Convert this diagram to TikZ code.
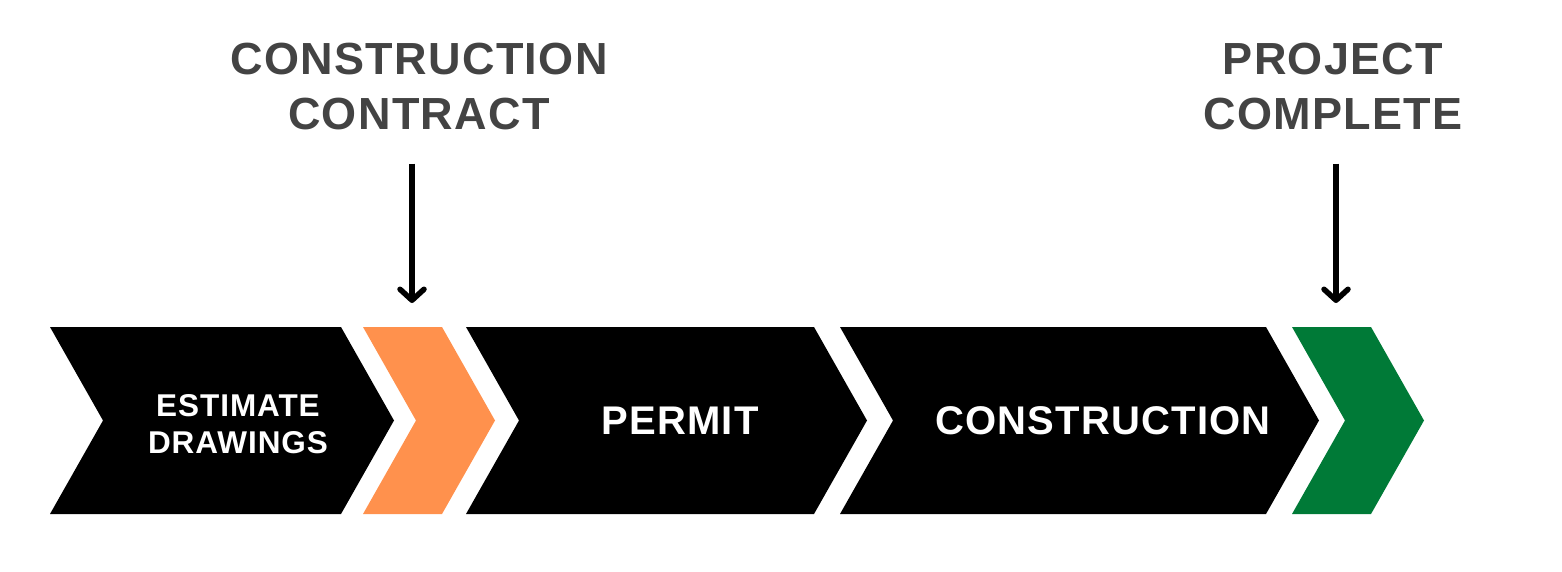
\documentclass[tikz,border=0pt]{standalone}
\usepackage{fontspec}
\setmainfont{Liberation Sans}
\usetikzlibrary{arrows.meta}
\definecolor{stageorange}{HTML}{FF914D}
\definecolor{stagegreen}{HTML}{007A37}
\definecolor{labelgray}{HTML}{434343}
% chevron: left x, top-right x, fill colour
\newcommand{\chevron}[3]{%
  \fill[#3] (#1,\ytop) -- (#2,\ytop) -- (#2+\dep,\ymid)
    -- (#2,\ybot) -- (#1,\ybot) -- (#1+\dep,\ymid) -- cycle;}

\begin{document}
\begin{tikzpicture}[
  x=1pt, y=-1pt,
  >={Straight Barb[length=11pt,width=24pt,round]},
  stagelbl/.style={text=white, align=center, inner sep=0pt,
    font=\bfseries\fontsize{40}{40}\selectfont\addfontfeature{LetterSpace=3}},
  smallstagelbl/.style={stagelbl,
    font=\bfseries\fontsize{31.5}{37}\selectfont\addfontfeature{LetterSpace=3}},
  milestone/.style={text=labelgray, align=center, inner sep=0pt,
    font=\bfseries\fontsize{45}{55}\selectfont\addfontfeature{LetterSpace=3}},
  pinarrow/.style={->, line width=5.5pt, black},
]
\useasboundingbox (0,0) rectangle (1562,572);

% ---- geometry (pixel grid, y down) ----
\def\ytop{327}   % top edge of the band
\def\ybot{514}   % bottom edge of the band
\def\ymid{420.5} % tip / notch height
\def\dep{53}     % depth of tip and notch

% =====================================================
% STAGE BAND
% =====================================================
\chevron{50}{341}{black}        % estimate
\chevron{363}{442}{stageorange} % contract
\chevron{466}{814}{black}       % permit
\chevron{840}{1266}{black}      % construction
\chevron{1292}{1371}{stagegreen}% complete

\node[smallstagelbl] (estimate) at (238,424) {ESTIMATE\\DRAWINGS};
\node[stagelbl] (permit) at (680,421) {PERMIT};
\node[stagelbl] (build) at (1103,421) {CONSTRUCTION};

% =====================================================
% MILESTONES
% =====================================================
\node[milestone] (contract) at (419,87) {CONSTRUCTION\\CONTRACT};
\node[milestone] (complete) at (1333,87) {PROJECT\\COMPLETE};

\coordinate (contractpin) at (412,303);
\coordinate (completepin) at (1336,303);

\draw[pinarrow] ([yshift=-33pt]contract.south -| contractpin) -- (contractpin);
\draw[pinarrow] ([yshift=-33pt]complete.south -| completepin) -- (completepin);

\end{tikzpicture}
\end{document}
